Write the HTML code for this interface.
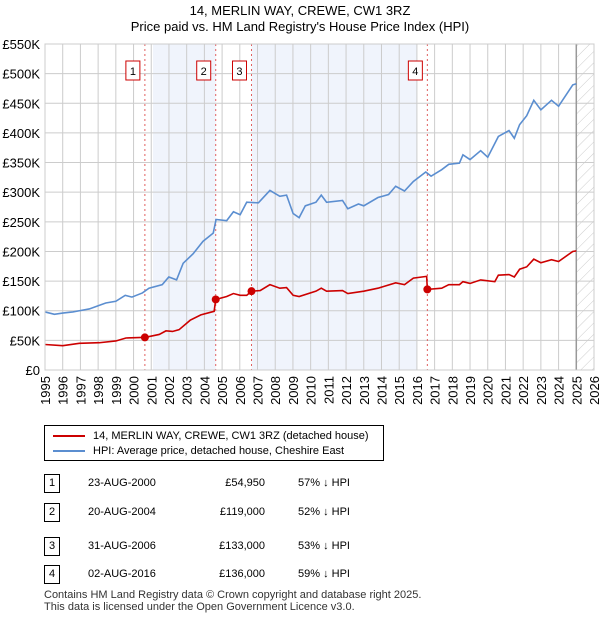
<!DOCTYPE html>
<html><head><meta charset="utf-8"><style>
body{margin:0;background:#fff;font-family:"Liberation Sans",sans-serif;color:#000}
#wrap{position:relative;width:600px;height:620px;overflow:hidden}
.t{position:absolute;font-size:12px}
</style></head><body><div id="wrap">
<div class="t" style="left:0;width:600px;text-align:center;top:3px;font-size:13px">14, MERLIN WAY, CREWE, CW1 3RZ</div>
<div class="t" style="left:0;width:600px;text-align:center;top:19px;font-size:13px">Price paid vs. HM Land Registry's House Price Index (HPI)</div>
<svg id="chart" width="600" height="420" style="position:absolute;left:0;top:0"></svg>
<div style="position:absolute;left:44px;top:425px;width:340px;height:36px;border:1px solid #000;box-sizing:border-box">
<div style="position:absolute;left:8px;top:4px;font-size:11px"><span style="display:inline-block;width:32px;height:2px;background:#cc0000;vertical-align:middle;margin-right:8px"></span>14, MERLIN WAY, CREWE, CW1 3RZ (detached house)</div>
<div style="position:absolute;left:8px;top:19px;font-size:11px"><span style="display:inline-block;width:32px;height:2px;background:#5b8ed0;vertical-align:middle;margin-right:8px"></span>HPI: Average price, detached house, Cheshire East</div>
</div>
<div id="table"></div>
<div class="t" style="left:44px;top:589px;font-size:11px;line-height:12px;color:#333">Contains HM Land Registry data © Crown copyright and database right 2025.<br>This data is licensed under the Open Government Licence v3.0.</div>
</div>
<script>
const hpiYears=[1995,1995.53,1996,1996.57,1996.94,1997.5,1998.06,1998.43,1999,1999.53,1999.91,2000.5,2000.87,2001.62,2001.99,2002.43,2002.8,2003.36,2003.92,2004.5,2004.66,2005.26,2005.64,2006.02,2006.39,2007.05,2007.7,2008.26,2008.64,2009.01,2009.35,2009.7,2010.3,2010.6,2010.9,2011.8,2012.1,2012.7,2013.0,2013.8,2014.4,2014.8,2015.3,2015.8,2016.5,2016.8,2017.4,2017.8,2018.4,2018.6,2019.0,2019.6,2020.0,2020.6,2021.2,2021.5,2021.8,2022.2,2022.6,2023.0,2023.6,2024.0,2024.8,2025.0];
const hpiValues=[98,94,96,98,100,103,109,113,116,126,123,130,138,144,157,152,180,196,217,231,254,252,267,262,283,282,303,293,295,264,257,277,283,295,283,286,272,280,277,291,296,310,302,318,334,327,338,347,349,363,355,370,359,394,404,391,414,429,455,439,455,445,481,483];
const ppYears=[1995,1996,1996.94,1998.06,1999,1999.57,2000.5,2000.64,2001.45,2001.83,2002.2,2002.57,2003.2,2003.8,2004.55,2004.64,2005.26,2005.64,2006.02,2006.39,2006.66,2007.15,2007.7,2008.26,2008.64,2009.01,2009.35,2010.3,2010.6,2010.9,2011.8,2012.1,2013.0,2013.8,2014.8,2015.3,2015.8,2016.55,2016.59,2017.4,2017.8,2018.4,2018.6,2019.0,2019.6,2020.4,2020.6,2021.2,2021.5,2021.8,2022.2,2022.6,2023.0,2023.6,2024.0,2024.8,2025.0];
const ppValues=[43,41,45,46,49,54,54.95,55,60,66,65,68,84,93,99,119,124,129,126,126,133,134,144,138,139,126,124,133,138,133,134,129,133,138,147,144,155,158,136,138,144,144,149,146,152,149,160,161,157,170,174,187,181,186,183,200,201];
const saleYears=[2000.64,2004.64,2006.66,2016.59];
const saleValues=[54.95,119,133,136];
const yTicks=[0,50,100,150,200,250,300,350,400,450,500,550];
const yTickLabels=["£0","£50K","£100K","£150K","£200K","£250K","£300K","£350K","£400K","£450K","£500K","£550K"];
const xTicks=[1995,1996,1997,1998,1999,2000,2001,2002,2003,2004,2005,2006,2007,2008,2009,2010,2011,2012,2013,2014,2015,2016,2017,2018,2019,2020,2021,2022,2023,2024,2025,2026];
const saleDates=["23-AUG-2000","20-AUG-2004","31-AUG-2006","02-AUG-2016"];
const salePrices=["£54,950","£119,000","£133,000","£136,000"];
const saleHpi=["57% ↓ HPI","52% ↓ HPI","53% ↓ HPI","59% ↓ HPI"];

const X0=45,X1=594,Y0=370,Y1=44;
const sx=y=>X0+(y-1995)/(2026-1995)*(X1-X0);
const sy=v=>Y0-v/550*(Y0-Y1);
const NS="http://www.w3.org/2000/svg";
const svg=document.getElementById('chart');
function mk(t,a){const e=document.createElementNS(NS,t);for(const k in a)e.setAttribute(k,a[k]);svg.appendChild(e);return e;}
let e;
e=mk('rect',{x:X0,y:Y1,width:X1-X0,height:Y0-Y1,fill:'#fff'});

e=mk('rect',{x:sx(2001.1),y:Y1,width:sx(2004.64)-sx(2001.1),height:Y0-Y1,fill:'#f0f4fc'});

e=mk('rect',{x:sx(2006.66),y:Y1,width:sx(2016.0)-sx(2006.66),height:Y0-Y1,fill:'#f0f4fc'});

const defs=mk('defs',{});
defs.innerHTML='<pattern id="hatch" width="8" height="8" patternUnits="userSpaceOnUse" patternTransform="rotate(45)"><line x1="0" y1="0" x2="0" y2="8" stroke="#ccc" stroke-width="1"/></pattern>';
e=mk('rect',{x:sx(2025.0),y:Y1,width:X1-sx(2025.0),height:Y0-Y1,fill:'url(#hatch)'});

yTicks.forEach((v,i)=>{
 e=mk('line',{x1:X0,x2:X1,y1:sy(v),y2:sy(v),stroke:'#ccc','stroke-width':1});
 
 e=mk('text',{x:40,y:sy(v)+5,'text-anchor':'end','font-size':13,fill:'#000'});
 e.textContent=yTickLabels[i];
 
});
xTicks.forEach(y=>{
 e=mk('line',{x1:sx(y),x2:sx(y),y1:Y1,y2:Y0,stroke:'#ccc','stroke-width':1});
 
 e=mk('text',{x:0,y:0,'text-anchor':'end','font-size':13,fill:'#000',transform:`translate(${sx(y)+5},376) rotate(-90)`});
 e.textContent=y;
 
});
e=mk('line',{x1:sx(2025.0),x2:sx(2025.0),y1:Y1,y2:Y0,stroke:'#999','stroke-width':1.5});

saleYears.forEach((y,i)=>{
 e=mk('line',{x1:sx(y),x2:sx(y),y1:Y1,y2:Y0,stroke:'#e06060','stroke-width':1,'stroke-dasharray':'2,3'});
 
 e=mk('rect',{x:sx(y)-19,y:61,width:14,height:19,fill:'#fff',stroke:'#cc0000','stroke-width':1});
 
 e=mk('text',{x:sx(y)-12,y:75,'text-anchor':'middle','font-size':11});
 e.textContent=i+1;
 
});
e=mk('polyline',{points:hpiYears.map((y,i)=>sx(y)+','+sy(hpiValues[i])).join(' '),fill:'none',stroke:'#5b8ed0','stroke-width':1.6});

e=mk('polyline',{points:ppYears.map((y,i)=>sx(y)+','+sy(ppValues[i])).join(' '),fill:'none',stroke:'#cc0000','stroke-width':1.6});

saleYears.forEach((y,i)=>{
 e=mk('circle',{cx:sx(y),cy:sy(saleValues[i]),r:4,fill:'#cc0000'});
 
});
e=mk('rect',{x:X0,y:Y1,width:X1-X0,height:Y0-Y1,fill:'none',stroke:'#ccc'});


const tbl=document.getElementById('table');
const rowY=[474,503,537,565];
saleDates.forEach((d,i)=>{
 const r=document.createElement('div');
 
 
 r.style.cssText=`position:absolute;left:0;top:${rowY[i]}px;width:600px;height:20px;font-size:11px`;
 r.innerHTML=`<span style="position:absolute;left:44px;top:0;width:14px;height:17px;border:1px solid #000;text-align:center;line-height:17px">${i+1}</span><span style="position:absolute;left:88px;top:3px">${d}</span><span style="position:absolute;left:180px;width:85px;text-align:right;top:3px">${salePrices[i]}</span><span style="position:absolute;left:298px;top:3px">${saleHpi[i]}</span>`;
 tbl.appendChild(r);
});
</script></body></html>
